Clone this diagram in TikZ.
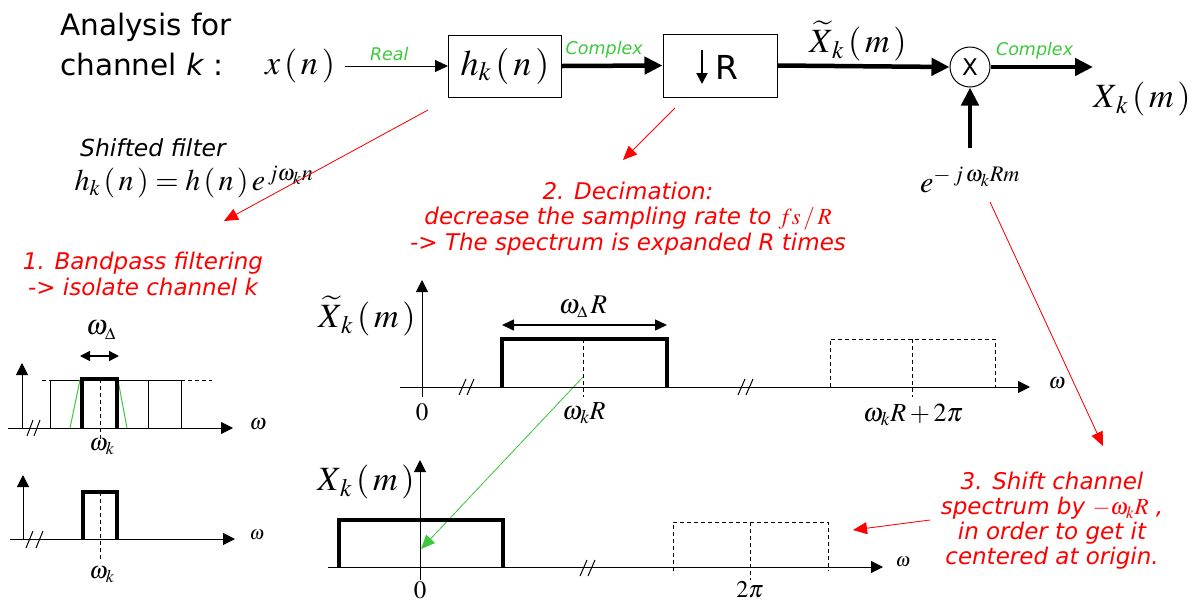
\documentclass[tikz,border=0pt]{standalone}
\usepackage{mathptmx}
\usepackage[no-math]{fontspec}
\setmainfont{DejaVu Sans}
\usetikzlibrary{arrows.meta}
\definecolor{grn}{RGB}{60,200,60}
\newcommand\myfs[1]{\fontsize{#1}{#1}\selectfont}
\begin{document}
\begin{tikzpicture}[x=1pt,y=-1pt,
  box/.style={draw, line width=1pt, minimum width=113pt, minimum height=62pt, inner sep=0pt},
  thinarr/.style={line width=1pt, -{Triangle[length=13pt,width=12pt]}},
  thickarr/.style={line width=4.5pt, -{Triangle[length=18pt,width=17pt]}},
  redarr/.style={draw=red, line width=0.8pt, -{Triangle[length=14pt,width=12pt]}, fill=red},
  grnarr/.style={draw=grn, line width=0.8pt, -{Triangle[length=14pt,width=12pt]}, fill=grn},
  axis/.style={line width=1pt, -{Triangle[length=12pt,width=12pt]}},
  thinl/.style={line width=1pt},
  band/.style={line width=3.5pt},
  dsh/.style={line width=1pt, dash pattern=on 4pt off 3pt},
  redtxt/.style={text=red, font=\myfs{23}\itshape, align=center, inner sep=0pt},
  grntxt/.style={text=grn, font=\myfs{17.5}\itshape, inner sep=0pt},
  lbl/.style={inner sep=0pt},
  brk/.style={line width=1pt},
  ]
\useasboundingbox (0,0) rectangle (1200,603);

% title
\node[anchor=base west, font=\myfs{29.5}, inner sep=0pt] (t1) at (60,35) {Analysis for};
\node[anchor=base west, font=\myfs{29.5}, inner sep=0pt] (t2) at (60,75) {channel \textit{k} :};

% block diagram
\node[lbl, font=\myfs{34}] (x) at (300,66) {$x\,(\,n\,)$};
\node[box] (h) at (505,66) {\myfs{36}$h_k\,(\,n\,)$};
\node[box, minimum width=114pt, minimum height=63pt] (dec) at (720,65.5) {};
\node[lbl, font=\myfs{33}] (decR) at (727,67) {R};
\coordinate (da1) at (702,50);
\coordinate (da2) at (702,84);
\draw[line width=2pt, -{Triangle[length=11pt,width=11pt]}] (da1) -- (da2);
\node[draw, circle, line width=1pt, minimum size=40pt, inner sep=0pt, font=\myfs{23}] (mult) at (970,67) {X};
\coordinate (out) at (1093,67);
\node[lbl, font=\myfs{34}] (Xt) at (858,41) {$\widetilde{X}_{\,k}\,(\,m\,)$};
\node[lbl, font=\myfs{34}] (Xk) at (1142,99) {$X_{\,k}\,(\,m\,)$};
\node[lbl, font=\myfs{30}] (ex) at (970,180) {$e^{-\,j\,\omega_k Rm}$};
\coordinate (exTop) at (970,148);

\draw[thinarr] (345,66) coordinate (xs) -- (h.west) node[grntxt, pos=0.43, above=5pt] {Real};
\draw[thickarr] (h.east) -- (dec.west) node[grntxt, pos=0.42, above=5pt] {Complex};
\draw[thickarr] (dec.east) -- (mult.west);
\draw[thickarr] (mult.east) -- (out) node[grntxt, pos=0.43, above=6pt] {Complex};
\draw[thickarr] (exTop) -- (mult.south);

% shifted filter
\node[lbl, font=\myfs{23.5}\itshape] (sf) at (153,148) {Shifted filter};
\node[lbl, font=\myfs{30}] (sff) at (194,182) {$h_k\,(\,n\,)=h\,(\,n\,)\,e^{\,j\omega_k n}$};

% red texts
\node[redtxt] (s1) at (143,274) {1. Bandpass filtering\\[3pt]{-}{>} isolate channel k};
\node[redtxt] (s2) at (628,219) {2. Decimation:\\[2pt]decrease the sampling rate to $fs\,/\,R$\\[2pt]{-}{>} The spectrum is expanded R times};
\node[redtxt, font=\myfs{23}\itshape] (s3) at (1052,521) {3. Shift channel\\[2pt]spectrum by $-\omega_k R$ ,\\[2pt]in order to get it\\[2pt]centered at origin.};

% red/green arrows
\coordinate (r1a) at (428,110); \coordinate (r1b) at (224,221);
\coordinate (r2a) at (675,108); \coordinate (r2b) at (623,160);
\coordinate (r3a) at (990,202); \coordinate (r3b) at (1103,446);
\coordinate (r4a) at (930,520); \coordinate (r4b) at (853,530);
\draw[redarr] (r1a) -- (r1b);
\draw[redarr] (r2a) -- (r2b);
\draw[redarr] (r3a) -- (r3b);
\draw[redarr] (r4a) -- (r4b);
\coordinate (g1a) at (583,377); \coordinate (g1b) at (421,549);
\draw[grnarr] (g1a) -- (g1b);

% ---------- plot 1 (top left)
\draw[axis] (8,428) -- (233,428);
\draw[axis] (22,428) -- (22,363);
\draw[brk] (27,436) -- (33,420); \draw[brk] (34,436) -- (40,420);
\draw[dsh] (42,380) -- (50,380);
\draw[dsh] (181,380) -- (212,380);
\draw[thinl] (50,428) -- (50,380) -- (181,380) -- (181,428);
\draw[thinl] (148,380) -- (148,428);
\draw[grn, line width=1pt] (70,428) -- (80,380);
\draw[grn, line width=1pt] (118,380) -- (127,428);
\draw[band] (82,428) -- (82,379) -- (117,379) -- (117,428);
\draw[dsh] (100,379) -- (100,440);
\draw[line width=1.5pt, {Triangle[length=10pt,width=10pt]}-{Triangle[length=10pt,width=10pt]}] (80,356) -- (119,356);
\node[lbl, font=\myfs{28}] (wd1) at (101,330) {$\omega_{\scriptscriptstyle\Delta}$};
\node[lbl, font=\myfs{22}] (w1) at (258,424) {$\omega$};
\node[lbl, font=\myfs{24}] (wk1) at (102,447) {$\omega_k$};

% ---------- plot 2 (bottom left)
\draw[axis] (10,539) -- (235,539);
\draw[axis] (23,539) -- (23,475);
\draw[brk] (26,548) -- (33,531); \draw[brk] (36,548) -- (43,531);
\draw[band] (83,539) -- (83,492) -- (117,492) -- (117,539);
\draw[dsh] (100,492) -- (100,562);
\node[lbl, font=\myfs{19}] (w2) at (257,535) {$\omega$};
\node[lbl, font=\myfs{24}] (wk2) at (102,575) {$\omega_k$};

% ---------- plot 3 (middle)
\draw[axis] (400,387) -- (1030,387);
\draw[axis] (422,397) -- (422,280);
\draw[brk] (459,395) -- (466,379); \draw[brk] (467,395) -- (474,379);
\draw[brk] (738,395) -- (745,379); \draw[brk] (746,395) -- (753,379);
\draw[band] (502,387) -- (502,339) -- (667,339) -- (667,387);
\draw[dsh] (583,339) -- (583,397);
\draw[line width=1.5pt, {Triangle[length=12pt,width=11pt]}-{Triangle[length=12pt,width=11pt]}] (502,325) -- (667,325);
\node[lbl, font=\myfs{27}] (wdR) at (583,307) {$\omega_{\scriptscriptstyle\Delta}\,R$};
\node[lbl, font=\myfs{25}] (z3) at (422,412) {$0$};
\node[lbl, font=\myfs{26}] (wkR) at (584,413) {$\omega_k R$};
\draw[dsh] (830,387) -- (830,339) -- (995,339) -- (995,387);
\draw[dsh] (912,339) -- (912,397);
\node[lbl, font=\myfs{22}] (w3) at (1057,383) {$\omega$};
\node[lbl, font=\myfs{26}] (wk2p) at (913,415) {$\omega_k R+2\pi$};
\node[lbl, font=\myfs{34}] (Xt2) at (367,316) {$\widetilde{X}_{\,k}\,(\,m\,)$};

% ---------- plot 4 (bottom)
\draw[axis] (328,567) -- (883,567);
\draw[axis] (420,580) -- (420,460);
\draw[brk] (580,576) -- (587,560); \draw[brk] (588,576) -- (595,560);
\draw[band] (339,567) -- (339,520) -- (503,520) -- (503,567);
\draw[dsh] (673,571) -- (673,522) -- (828,522) -- (828,571);
\draw[dsh] (750,522) -- (750,580);
\node[lbl, font=\myfs{19}] (w4) at (903,562) {$\omega$};
\node[lbl, font=\myfs{25}] (z4) at (420,590) {$0$};
\node[lbl, font=\myfs{24}] (tp) at (750,590) {$2\pi$};
\node[lbl, font=\myfs{34}] (Xk2) at (366,482) {$X_{\,k}\,(\,m\,)$};
\end{tikzpicture}
\end{document}
